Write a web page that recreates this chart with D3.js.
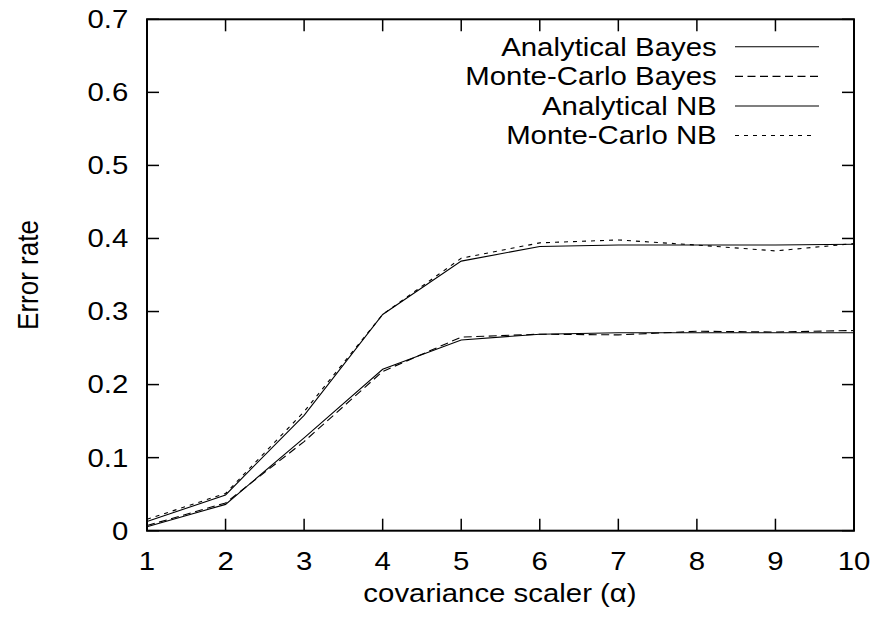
<!DOCTYPE html>
<html>
<head>
<meta charset="utf-8">
<script src="https://cdn.jsdelivr.net/npm/d3@7"></script>
<style>
  html, body { margin: 0; padding: 0; background: #fff; }
  svg text { font-family: "Liberation Sans", Arial, Helvetica, sans-serif; fill: #000; }
</style>
</head>
<body>
<svg id="chart" width="875" height="621"></svg>
<script>
// ---- data ----
const alphaValues = [1, 2, 3, 4, 5, 6, 7, 8, 9, 10];
const analyticalBayes = [0.0055, 0.036, 0.127, 0.221, 0.261, 0.269, 0.271, 0.271, 0.271, 0.271];
const monteCarloBayes = [0.007, 0.038, 0.122, 0.218, 0.265, 0.269, 0.268, 0.273, 0.272, 0.274];
const analyticalNB = [0.0125, 0.049, 0.158, 0.296, 0.369, 0.389, 0.391, 0.391, 0.391, 0.392];
const monteCarloNB = [0.0156, 0.051, 0.163, 0.296, 0.373, 0.394, 0.398, 0.391, 0.383, 0.393];
const seriesNames = ["Analytical Bayes", "Monte-Carlo Bayes", "Analytical NB", "Monte-Carlo NB"];
const xTicks = [1, 2, 3, 4, 5, 6, 7, 8, 9, 10];
const yTicks = [0, 0.1, 0.2, 0.3, 0.4, 0.5, 0.6, 0.7];
const xLabel = "covariance scaler (\u03b1)";
const yLabel = "Error rate";

// ---- layout ----
const svg = d3.select("#chart");
const pLeft = 147, pRight = 854, pTop = 19.3, pBottom = 530.7;
const x = d3.scaleLinear().domain([1, 10]).range([pLeft, pRight]);
const y = d3.scaleLinear().domain([0, 0.7]).range([pBottom, pTop]);
const fontSize = 26;
const sx = 1.13; // horizontal stretch of the original rendering

const seriesData = [analyticalBayes, monteCarloBayes, analyticalNB, monteCarloNB];
const dashes = [null, "8,4.5", null, "4,5"];

function addText(px, py, str, anchor, rotate) {
  svg.append("text")
    .attr("transform", `translate(${px},${py}) scale(${sx},1)` + (rotate ? " rotate(-90)" : ""))
    .attr("text-anchor", anchor)
    .attr("dominant-baseline", "central")
    .attr("font-size", fontSize)
    .text(str);
}

// lines
const line = d3.line().x((d, i) => x(alphaValues[i])).y(d => y(d));
seriesData.forEach((vals, k) => {
  svg.append("path")
    .attr("d", line(vals))
    .attr("fill", "none")
    .attr("stroke", "#000")
    .attr("stroke-width", 1.1)
    .attr("stroke-dasharray", dashes[k]);
});

// ticks (inward, mirrored)
const tl = 12;
const tickG = svg.append("g").attr("stroke", "#000").attr("stroke-width", 1.5);
xTicks.forEach(t => {
  tickG.append("line").attr("x1", x(t)).attr("x2", x(t)).attr("y1", pBottom).attr("y2", pBottom - tl);
  tickG.append("line").attr("x1", x(t)).attr("x2", x(t)).attr("y1", pTop).attr("y2", pTop + tl);
});
yTicks.forEach(t => {
  tickG.append("line").attr("x1", pLeft).attr("x2", pLeft + tl).attr("y1", y(t)).attr("y2", y(t));
  tickG.append("line").attr("x1", pRight).attr("x2", pRight - tl).attr("y1", y(t)).attr("y2", y(t));
});

// frame
svg.append("rect")
  .attr("x", pLeft).attr("y", pTop)
  .attr("width", pRight - pLeft).attr("height", pBottom - pTop)
  .attr("fill", "none").attr("stroke", "#000").attr("stroke-width", 2);

// tick labels
xTicks.forEach(t => addText(x(t), 561, String(t), "middle", false));
yTicks.forEach(t => addText(128.3, y(t), t === 0 ? "0" : t.toFixed(1), "end", false));

// axis labels
addText(500, 593, xLabel, "middle", false);
addText(27.5, (pTop + pBottom) / 2, yLabel, "middle", true);

// legend
const legY = [46.7, 76.4, 106, 135.5];
seriesNames.forEach((name, k) => {
  addText(716.7, legY[k], name, "end", false);
  svg.append("line")
    .attr("x1", 735).attr("x2", k === 3 ? 813 : 819)
    .attr("y1", legY[k]).attr("y2", legY[k])
    .attr("stroke", "#000").attr("stroke-width", 1.1)
    .attr("stroke-dasharray", dashes[k]);
});
</script>
</body>
</html>
